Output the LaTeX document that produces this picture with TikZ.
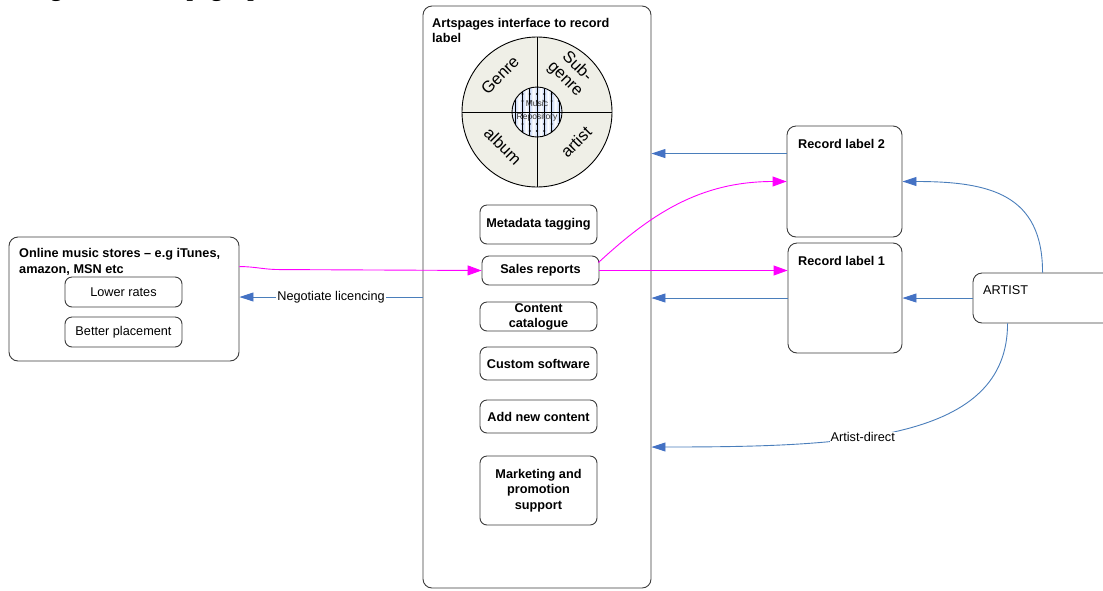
\documentclass[tikz,border=0pt]{standalone}
\usepackage{fontspec}
\setmainfont{Liberation Sans}
\newfontfamily\titlefont{Liberation Serif}
\usetikzlibrary{arrows.meta,calc}

\definecolor{linkblue}{RGB}{74,126,187}
\definecolor{tipblue}{RGB}{68,114,196}
\definecolor{salespink}{RGB}{255,0,255}
\definecolor{boxline}{RGB}{60,60,60}
\definecolor{wheelfill}{RGB}{239,239,231}
\definecolor{repofill}{RGB}{196,212,244}

\tikzset{
  txt/.style={font=\fontsize{12.7}{15.5}\selectfont},
  boldtxt/.style={font=\fontsize{12.7}{15.5}\selectfont\bfseries},
  panel/.style={draw=boxline, line width=0.9pt, rounded corners=9pt, fill=white, inner sep=0pt},
  tag/.style={draw=boxline, line width=0.9pt, rounded corners=7pt, fill=white,
    minimum width=117pt, align=center, inner sep=0pt},
  wedge/.style={font=\fontsize{16.5}{17}\selectfont, align=center, inner sep=0pt},
  bluelink/.style={draw=linkblue, line width=0.9pt, -{Triangle[length=14pt,width=9pt,color=tipblue]}},
  pinklink/.style={draw=salespink, line width=0.9pt, -{Triangle[length=14pt,width=10pt,color=salespink]}},
}

\begin{document}
\begin{tikzpicture}[x=1pt,y=-1pt]
\useasboundingbox (0,0) rectangle (1103,590);

% page heading, running above the top edge
\node[anchor=base west, inner sep=0pt, font=\titlefont\bfseries\fontsize{23}{26}\selectfont]
  (heading) at (16,-3.5) {Diagram 1 – Artspages process};

% Artspages interface panel
\node[panel, minimum width=228pt, minimum height=582pt] (ap) at (537,297) {};
\node[boldtxt, anchor=north west, align=left, inner sep=0pt] (aptitle) at (432,17.8)
  {Artspages interface to record\\label};

% classification wheel
\coordinate (wc) at (537,112);
\fill[wheelfill] (wc) circle (75);
\draw[black, line width=0.9pt] (wc) circle (75);
\draw[black, line width=0.9pt] (462,112) -- (612,112) (537,37) -- (537,187);
\node[wedge, rotate=45]  (genre)  at (500,75)  {Genre};
\node[wedge, rotate=-45] (subg)   at (571,73)  {Sub-\\genre};
\node[wedge, rotate=-45] (album)  at (503,146) {album};
\node[wedge, rotate=45]  (artq)   at (576,142) {artist};

% music repository core
\begin{scope}
  \clip (wc) circle (25);
  \fill[white] (510,85) rectangle (564,139);
  \foreach \k in {-4,...,3} {
    \shade[left color=repofill, right color=repofill, middle color=white]
      (537+\k*7.3,86) rectangle +(7.3,52);
  }
  \foreach \k in {-3,...,3} {
    \draw[black, line width=0.5pt] (537+\k*7.3,86) -- (537+\k*7.3,138);
    \foreach \yy in {94,101,124,131} {
      \fill[black] (537+\k*7.3,\yy) circle (1.1);
    }
  }
  \draw[black, line width=0.4pt] (512,112) -- (562,112);
\end{scope}
\draw[black, line width=0.9pt] (wc) circle (25);
\node[font=\fontsize{8.5}{12.5}\selectfont, text=black!80, align=center, inner sep=0pt]
  (repo) at (537,111) {Music\\Repository};

% service boxes inside the panel
\node[tag, boldtxt, minimum height=39pt] (meta) at (538.5,224.5) {Metadata tagging};
\node[tag, boldtxt, minimum height=29pt] (sr)   at (540.5,270.5) {Sales reports};
\node[tag, boldtxt, minimum height=29pt, font=\fontsize{12.7}{15}\selectfont\bfseries]
  (cc) at (538.5,316.5) {Content\\catalogue};
\node[tag, boldtxt, minimum height=33pt] (cs)   at (538.5,363.5) {Custom software};
\node[tag, boldtxt, minimum height=33pt] (anc)  at (538.5,416.5) {Add new content};
\node[tag, boldtxt, minimum height=69pt] (mps)  at (538.5,490.5) {Marketing and\\promotion\\support};

% online music stores
\node[panel, minimum width=230pt, minimum height=124pt] (oms) at (124,299) {};
\node[boldtxt, anchor=north west, align=left, inner sep=0pt] (omstitle) at (19,248.3)
  {Online music stores – e.g iTunes,\\amazon, MSN etc};
\node[tag, txt, minimum height=30pt] (lower)  at (123.5,292) {Lower rates};
\node[tag, txt, minimum height=30pt] (better) at (123.5,332) {Better placement};

% record labels
\node[panel, minimum width=115pt, minimum height=111pt] (rl2) at (844.5,181.5) {};
\node[boldtxt, anchor=base west, inner sep=0pt] (rl2t) at (798,148) {Record label 2};
\node[panel, minimum width=114pt, minimum height=110pt] (rl1) at (845,298) {};
\node[boldtxt, anchor=base west, inner sep=0pt] (rl1t) at (798,265) {Record label 1};

% artist
\node[panel, minimum width=160pt, minimum height=50pt] (artist) at (1053,298) {};
\node[txt, anchor=base west, inner sep=0pt] (artistt) at (983,294) {ARTIST};

% sales flows
\draw[pinklink] ($(oms.north east)+(0,30)$) to[out=0,in=180] ($(oms.north east)+(40,33)$) -- (sr.west);
\draw[pinklink] (sr.east) -- (sr.east -| rl1.west);
\draw[pinklink] ($(sr.east)+(-1,-8)$) .. controls +(52,-48) and +(-87,0) .. (rl2.west);

% licencing and label feeds
\draw[bluelink] (ap.west) -- (ap.west -| oms.east)
  node[midway, fill=white, inner sep=1pt, txt] (neg) {Negotiate licencing};
\draw[bluelink] ($(rl2.north west)+(0,28)$) coordinate (rl2out) -- (rl2out -| ap.east);
\draw[bluelink] (rl1.west) -- (rl1.west -| ap.east);

% artist routes
\draw[bluelink] (artist.west) -- (rl1.east);
\draw[bluelink] ($(artist.north west)+(70,0)$) .. controls +(0,-78) and +(88,0) .. (rl2.east);
\draw[bluelink] ($(artist.south west)+(35,0)$) .. controls +(0,117) and +(199,0) .. (ap.east |- 0,447)
  node[pos=0.6, fill=white, inner sep=1pt, txt] (direct) {Artist-direct};
\end{tikzpicture}
\end{document}
